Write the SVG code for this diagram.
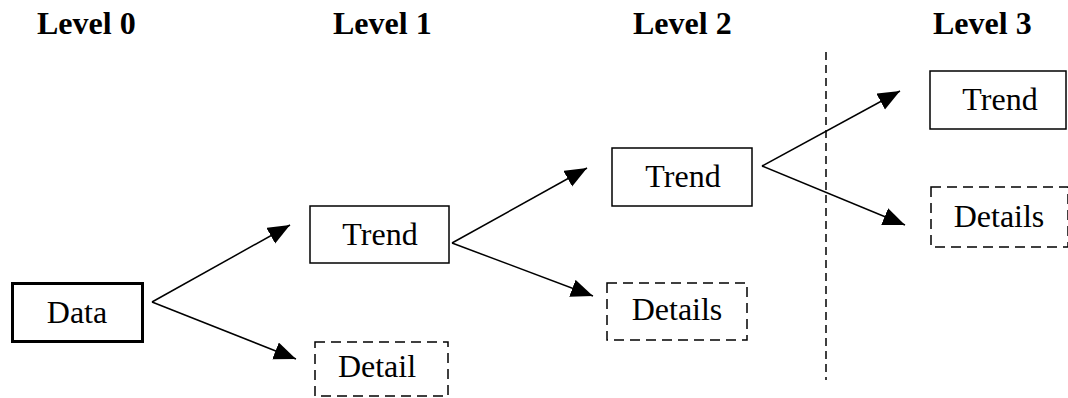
<svg xmlns="http://www.w3.org/2000/svg" width="1068" height="398" viewBox="0 0 1068 398">
  <style>
    .lvl { font-family: "Liberation Serif", "Times New Roman", serif; font-weight: bold; font-size: 32px; fill: #000; }
    .lbl { font-family: "Liberation Serif", "Times New Roman", serif; font-size: 32px; fill: #000; text-anchor: middle; }
    .box { fill: #fff; stroke: #000; stroke-width: 1.5; }
    .thick { stroke-width: 3; }
    .dash { stroke-dasharray: 10 6; }
    .edge { stroke: #000; stroke-width: 1.5; fill: none; marker-end: url(#arrow); }
    .divider { stroke: #000; stroke-width: 1.5; stroke-dasharray: 8 5; }
  </style>
  <defs>
    <marker id="arrow" markerUnits="userSpaceOnUse" markerWidth="23" markerHeight="20" refX="22" refY="9" orient="auto">
      <path d="M0,0 L22,9 L0,18 Z" fill="#000"/>
    </marker>
  </defs>
  <rect width="1068" height="398" fill="#fff"/>

  <!-- level headings -->
  <g id="headings">
    <text class="lvl" x="37" y="34">Level 0</text>
    <text class="lvl" x="333" y="34">Level 1</text>
    <text class="lvl" x="633" y="34">Level 2</text>
    <text class="lvl" x="933" y="34">Level 3</text>
  </g>

  <!-- separator before the last level -->
  <line class="divider" x1="826" y1="52" x2="826" y2="380"/>

  <g id="connectors">
    <line class="edge" x1="152" y1="302" x2="290" y2="225"/>
    <line class="edge" x1="152" y1="302" x2="296" y2="359"/>
    <line class="edge" x1="452" y1="243" x2="587" y2="168"/>
    <line class="edge" x1="452" y1="243" x2="593" y2="296"/>
    <line class="edge" x1="762" y1="166" x2="900" y2="91"/>
    <line class="edge" x1="762" y1="166" x2="905" y2="225"/>
  </g>

  <g id="data">
    <rect class="box thick" x="12.5" y="283.5" width="130" height="58"/>
    <text class="lbl" x="77" y="323">Data</text>
  </g>
  <g id="trend1">
    <rect class="box" x="310" y="206" width="139" height="57"/>
    <text class="lbl" x="380" y="245">Trend</text>
  </g>
  <g id="detail1">
    <rect class="box dash" x="315" y="342" width="133" height="54"/>
    <text class="lbl" x="377" y="377">Detail</text>
  </g>
  <g id="trend2">
    <rect class="box" x="612" y="148" width="140" height="58"/>
    <text class="lbl" x="683" y="187">Trend</text>
  </g>
  <g id="details2">
    <rect class="box dash" x="607" y="283" width="140" height="57"/>
    <text class="lbl" x="677" y="320">Details</text>
  </g>
  <g id="trend3">
    <rect class="box" x="930" y="71" width="136" height="58"/>
    <text class="lbl" x="1000" y="110">Trend</text>
  </g>
  <g id="details3">
    <rect class="box dash" x="931" y="187" width="137" height="60"/>
    <text class="lbl" x="999" y="227">Details</text>
  </g>
</svg>
